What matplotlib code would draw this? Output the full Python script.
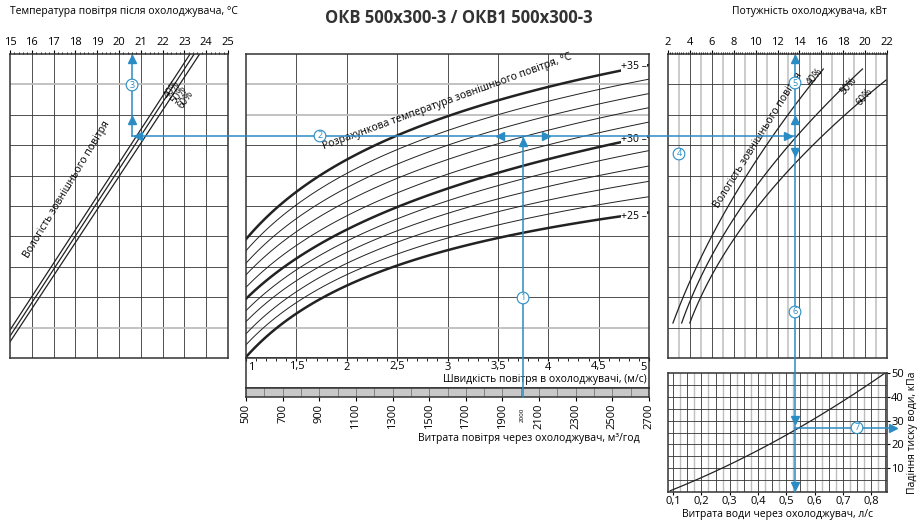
import numpy as np
import matplotlib
matplotlib.use("Agg")
import matplotlib.pyplot as plt
from matplotlib.ticker import MultipleLocator

plt.rcParams['font.family'] = ['Open Sans', 'DejaVu Sans']

W, H = 918, 523
BLUE = "#2b8cc4"
GRAY = "#bdbdbd"

# ---- data ----
# left panel: temperature after cooler (°C) vs level (0 bottom .. 10 top)
hum_labels = ["40%", "50%", "60%"]
left_t_top = [23.26, 23.45, 23.7]
left_t_bottom = [15.0, 15.0, 15.0]
left_lvl_bottom = [0.92, 0.72, 0.53]

# centre panel: air speed (m/s) vs level, one curve per outdoor temperature
speed = [1, 1.5, 2, 2.5, 3, 3.5, 4, 4.5, 5]
outdoor_t = [35, 34, 33, 32, 31, 30, 29, 28, 27, 26, 25]
curves_px = [
    [238, 193, 162, 136, 115, 98, 85, 75, 68],
    [249, 207, 176, 150, 129, 112, 99, 89, 83],
    [261, 222, 190, 164, 143, 127, 114, 104, 97],
    [272, 236, 205, 177, 157, 141, 128, 118, 112],
    [284, 251, 219, 191, 171, 156, 143, 133, 126],
    [295, 265, 233, 205, 185, 170, 157, 147, 141],
    [307, 276, 245, 216, 197, 183, 171, 162, 154],
    [318, 286, 258, 228, 209, 196, 184, 177, 170],
    [330, 297, 270, 239, 221, 208, 198, 191, 186],
    [341, 307, 283, 251, 233, 221, 211, 206, 202],
    [353, 318, 295, 262, 245, 233, 225, 221, 218],
]
flow_ticks = [500, 700, 900, 1100, 1300, 1500, 1700, 1900, 2100, 2300, 2500, 2700]

# right panel: cooling power (kW) vs level
pow40_kw = [2.35, 4.0, 5.8, 7.5, 10.5, 13.4, 16.4]
pow40_px = [323, 280, 247, 207, 150, 105, 69]
pow50_kw = [3.2, 6.5, 8.8, 13.6, 16.7, 19.9]
pow50_px = [323, 247, 207, 137, 100, 69]
pow60_kw = [4.0, 7.4, 10.4, 13.6, 17.5, 22.0]
pow60_px = [323, 247, 207, 163, 120, 80]

# bottom right: water flow (l/s) vs pressure drop (kPa)
water_flow = [0.09, 0.2, 0.3, 0.4, 0.54, 0.7, 0.85]
water_dp = [1, 5.5, 11, 18, 27, 38, 50]

# example route
ex_temp, ex_speed, ex_kw, ex_flow, ex_dp = 20.6, 3.75, 13.6, 0.54, 27
ex_level_px = 136


def lvl(px):
    return (358 - np.asarray(px, dtype=float)) / 30.4


def smooth(x, y, deg=3, n=120):
    # smooth drawing through the read points
    x = np.asarray(x, float)
    y = np.asarray(y, float)
    p = np.polyfit(x, y, deg)
    xs = np.linspace(x.min(), x.max(), n)
    return xs, np.polyval(p, xs)


fig = plt.figure(figsize=(W / 100, H / 100), dpi=100)


def add_ax(x0, y0, x1, y1):
    return fig.add_axes([x0 / W, 1 - y1 / H, (x1 - x0) / W, (y1 - y0) / H])


def grid_rows(ax, gray_rows=(1, 9)):
    for r in range(1, 10):
        if r in gray_rows:
            ax.axhline(r, color=GRAY, lw=1.3, zorder=0)
        else:
            ax.axhline(r, color="#333", lw=0.6, zorder=0)


# ---- left panel ----
axl = add_ax(10, 54, 228, 358)
axl.set_xlim(15, 25)
axl.set_ylim(0, 10)
for t in range(16, 25):
    axl.axvline(t, color="#333", lw=0.6, zorder=0)
grid_rows(axl)
for i in range(3):
    axl.plot([left_t_bottom[i], left_t_top[i]], [left_lvl_bottom[i], 10], color="#222", lw=0.9)
axl.xaxis.tick_top()
axl.set_xticks(range(15, 26))
axl.xaxis.set_minor_locator(MultipleLocator(0.2))
axl.tick_params(axis="x", which="major", length=3, labelsize=8, pad=1)
axl.tick_params(axis="x", which="minor", length=1.5)
axl.set_yticks([])
axl.text(0, 1.13, "Температура повітря після охолоджувача, °С", transform=axl.transAxes, fontsize=7.5)
axl.text(17.6, lvl(190), "Вологість зовнішнього повітря", rotation=59, fontsize=7.5,
         ha="center", va="center")
for i, (tx, px) in enumerate([(22.45, 90), (22.75, 95), (23.05, 100)]):
    axl.text(tx, lvl(px), hum_labels[i], rotation=55, fontsize=7, ha="center", va="center")

# ---- centre panel ----
axc = add_ax(246, 54, 649, 358)
axc.set_xlim(1, 5)
axc.set_ylim(0, 10)
for s in np.arange(1.5, 5, 0.5):
    axc.axvline(s, color="#333", lw=0.6, zorder=0)
grid_rows(axc, gray_rows=(1, 8, 9))
for t, c in zip(outdoor_t, curves_px):
    bold = t in (25, 30, 35)
    xs_, ys_ = smooth(np.log(speed), lvl(c), deg=2)
    axc.plot(np.exp(xs_), ys_, color="#222", lw=1.8 if bold else 0.7)
for t, c in zip(outdoor_t, curves_px):
    if t in (25, 30, 35):
        axc.text(4.98, lvl(c[-1]) + 0.05, f"+{t} –", fontsize=7.5, ha="right", va="center",
                 bbox=dict(fc="white", ec="none", pad=0.3))
axc.text(3.0, lvl(102), "Розрахункова температура зовнішнього повітря, °С", rotation=20,
         fontsize=7.5, ha="center", va="center")
axc.set_xticks([])
axc.set_yticks([])

# speed box
axs = add_ax(246, 358, 649, 388)
axs.set_xlim(1, 5)
axs.set_ylim(0, 1)
axs.xaxis.tick_top()
axs.set_xticks(np.arange(1, 5.01, 0.5))
axs.xaxis.set_minor_locator(MultipleLocator(0.1))
axs.tick_params(axis="x", which="both", direction="in", length=2, labeltop=False)
axs.set_yticks([])
for s in np.arange(1, 5.01, 0.5):
    lab = f"{s:g}".replace(".", ",")
    ha = "left" if s == 1 else ("right" if s == 5 else "center")
    axs.text(s + (0.02 if s == 1 else (-0.02 if s == 5 else 0)), 0.7, lab, fontsize=8, ha=ha, va="center")
axs.text(4.98, 0.27, "Швидкість повітря в охолоджувачі, (м/с)", fontsize=7.5, ha="right", va="center")

# flow bar
axf = add_ax(246, 388, 649, 397)
axf.set_xlim(500, 2700)
axf.set_ylim(0, 1)
axf.set_facecolor("#c8c8c8")
for f in range(600, 2700, 100):
    axf.axvline(f, color="#777", lw=0.6)
axf.set_xticks(flow_ticks)
axf.set_xticklabels([str(v) for v in flow_ticks], rotation=90, fontsize=8)
axf.tick_params(axis="x", length=3, pad=2)
axf.set_yticks([])
axf.text(2010, -1.2, "2000", rotation=90, fontsize=4.5, ha="center", va="top")
fig.text(640 / W, 1 - 438 / H, "Витрата повітря через охолоджувач, м³/год", fontsize=7.5, ha="right", va="center")

# ---- right panel ----
axr = add_ax(668, 54, 887, 358)
axr.set_xlim(2, 22)
axr.set_ylim(0, 10)
for k in range(3, 22):
    axr.axvline(k, color="#333" if k % 2 == 0 else GRAY, lw=0.6 if k % 2 == 0 else 1.1, zorder=0)
grid_rows(axr, gray_rows=())
for kw, px in [(pow40_kw, pow40_px), (pow50_kw, pow50_px), (pow60_kw, pow60_px)]:
    ys_, xs_ = smooth(lvl(px), kw, deg=2)
    axr.plot(xs_, ys_, color="#222", lw=0.9)
axr.xaxis.tick_top()
axr.set_xticks(range(2, 23, 2))
axr.xaxis.set_minor_locator(MultipleLocator(0.2))
axr.tick_params(axis="x", which="major", length=3, labelsize=8, pad=1)
axr.tick_params(axis="x", which="minor", length=1.5)
axr.set_yticks([])
axr.text(1, 1.13, "Потужність охолоджувача, кВт", transform=axr.transAxes, fontsize=7.5, ha="right")
axr.text(10.2, lvl(140), "Вологість зовнішнього повітря", rotation=58, fontsize=7.5, ha="center", va="center")
for lab, kx, px in [("40%", 15.4, 77), ("50%", 18.5, 86), ("60%", 20.0, 97)]:
    axr.text(kx, lvl(px), lab, rotation=50, fontsize=7, ha="center", va="center")

# ---- bottom right panel ----
axw = add_ax(668, 373, 887, 492)
axw.set_xlim(0.082, 0.856)
axw.set_ylim(0, 50)
for x in np.arange(0.1, 0.86, 0.05):
    axw.axvline(x, color="#333", lw=0.6, zorder=0)
for x in np.arange(0.125, 0.86, 0.05):
    axw.axvline(x, color=GRAY, lw=1.0, zorder=0)
for y in range(5, 50, 5):
    axw.axhline(y, color="#333", lw=0.6, zorder=0)
xs_, ys_ = smooth(water_flow, water_dp, deg=2)
axw.plot(xs_, ys_, color="#222", lw=0.9)
axw.set_xticks(np.arange(0.1, 0.81, 0.1))
axw.set_xticklabels([f"{v:.1f}".replace(".", ",") for v in np.arange(0.1, 0.81, 0.1)], fontsize=8)
axw.yaxis.tick_right()
axw.set_yticks([10, 20, 30, 40, 50])
axw.tick_params(axis="both", length=2, labelsize=8, pad=1)
axw.set_ylabel("Падіння тиску води, кПа", fontsize=7.5, rotation=90, labelpad=2)
axw.yaxis.set_label_position("right")
axw.set_xlabel("Витрата води через охолоджувач, л/с", fontsize=7.5, labelpad=1)

for a in (axl, axc, axs, axf, axr, axw):
    for sp in a.spines.values():
        sp.set_linewidth(1.1)
        sp.set_color("#333")

# ---- overlay for the example route ----
ov = fig.add_axes([0, 0, 1, 1], zorder=10)
ov.set_xlim(0, W)
ov.set_ylim(H, 0)
ov.axis("off")
ov.patch.set_alpha(0)


def to_px(ax, x, y):
    p = ax.transData.transform((x, y))
    return ov.transData.inverted().transform(p)


xt = to_px(axl, ex_temp, 0)[0]
xs = to_px(axc, ex_speed, 0)[0]
xk = to_px(axr, ex_kw, 0)[0]
yd = to_px(axw, ex_flow, ex_dp)[1]
yb = 492
yl = ex_level_px

kw_line = dict(color=BLUE, lw=1.1)
ov.plot([xt, xk], [yl, yl], **kw_line)
ov.plot([xt, xt], [56, yl], **kw_line)
ov.plot([xs, xs], [yl, 397], **kw_line)
ov.plot([xk, xk], [56, yb], **kw_line)
ov.plot([xk, 895], [yd, yd], **kw_line)
mk = dict(color=BLUE, ms=6, ls="none")
ov.plot([xt, xt, xk, xk], [59, 120, 59, 120], marker="^", **mk)
ov.plot([xs], [yl + 6], marker="^", **mk)
ov.plot([xt + 6], [yl], marker="<", **mk)
ov.plot([xs - 23], [yl], marker="<", **mk)
ov.plot([xs + 23, xk - 7], [yl, yl], marker=">", **mk)
ov.plot([xk, xk, xk], [152, yd - 8, yb - 6], marker="v", **mk)
ov.plot([893], [yd], marker=">", **mk)

circ = dict(fontsize=6.5, color=BLUE, ha="center", va="center",
            bbox=dict(boxstyle="circle,pad=0.15", fc="white", ec=BLUE, lw=0.8))
ov.text(xs, 298, "1", **circ)
ov.text(320, yl, "2", **circ)
ov.text(xt, 85, "3", **circ)
ov.text(679, 154, "4", **circ)
ov.text(xk, 83, "5", **circ)
ov.text(xk, 312, "6", **circ)
ov.text(to_px(axw, 0.75, 0)[0], yd, "7", **circ)

fig.text(0.5, 1 - 18 / H, "ОКВ 500х300-3 / ОКВ1 500х300-3", fontsize=12, fontweight="bold",
         ha="center", va="center", color="#333")

fig.savefig("out.png", dpi=100)
